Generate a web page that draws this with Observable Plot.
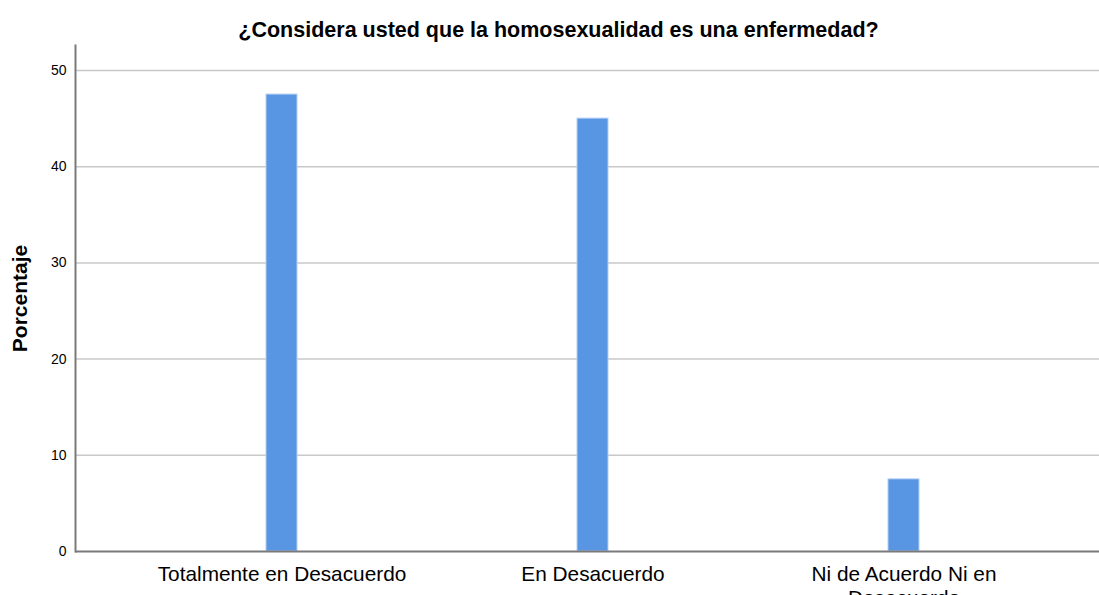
<!DOCTYPE html>
<html>
<head>
<meta charset="utf-8">
<script src="https://cdn.jsdelivr.net/npm/d3@7"></script>
<script src="https://cdn.jsdelivr.net/npm/@observablehq/plot@0.6"></script>
<style>
  html, body { margin: 0; padding: 0; background: #fff; }
</style>
</head>
<body>
<div id="chart"></div>
<script>
const title = "¿Considera usted que la homosexualidad es una enfermedad?";
const yLabel = "Porcentaje";
const categories = ["Totalmente en Desacuerdo", "En Desacuerdo", "Ni de Acuerdo Ni en Desacuerdo"];
const tickLabels = ["Totalmente en Desacuerdo", "En Desacuerdo", "Ni de Acuerdo Ni en\nDesacuerdo"];
const values = [47.5, 45.0, 7.5];
const yTicks = [0, 10, 20, 30, 40, 50];

const data = categories.map((c, i) => ({cat: c, value: values[i]}));

const chart = Plot.plot({
  width: 1099,
  height: 595,
  marginLeft: 75,
  marginRight: 0,
  marginTop: 45,
  marginBottom: 44,
  style: {fontFamily: "'Liberation Sans', Arial, sans-serif", background: "#fff", color: "#000"},
  x: {domain: categories, paddingInner: 0.9, paddingOuter: 0.596, align: 0.515, label: null, axis: null},
  y: {domain: [0, 52.6], label: null, axis: null},
  marks: [
    Plot.gridY(yTicks.filter(d => d > 0), {stroke: "#c8c8c8", strokeOpacity: 1, strokeWidth: 1.5}),
    Plot.barY(data, {x: "cat", y: "value", fill: "#5895e3", stroke: "#b4cff4", strokeWidth: 1}),
    Plot.axisY(yTicks, {tickSize: 0, tickPadding: 9, fontSize: 14, label: null}),
    Plot.axisX({tickSize: 0, tickPadding: 13, fontSize: 20.8, lineHeight: 1.15, label: null,
      tickFormat: d => tickLabels[categories.indexOf(d)]}),
    Plot.frame({anchor: "left", stroke: "#7a7a7a", strokeWidth: 2}),
    Plot.ruleY([0], {stroke: "#7a7a7a", strokeWidth: 2}),
    Plot.text([title], {frameAnchor: "top", dy: -15, lineAnchor: "middle", fontSize: 21.5, fontWeight: "bold", textAnchor: "middle", dx: -29}),
    Plot.text([yLabel], {frameAnchor: "left", dx: -55, rotate: -90, textAnchor: "middle", lineAnchor: "middle", fontSize: 21, fontWeight: "bold"})
  ]
});

document.getElementById("chart").append(chart);
</script>
</body>
</html>
